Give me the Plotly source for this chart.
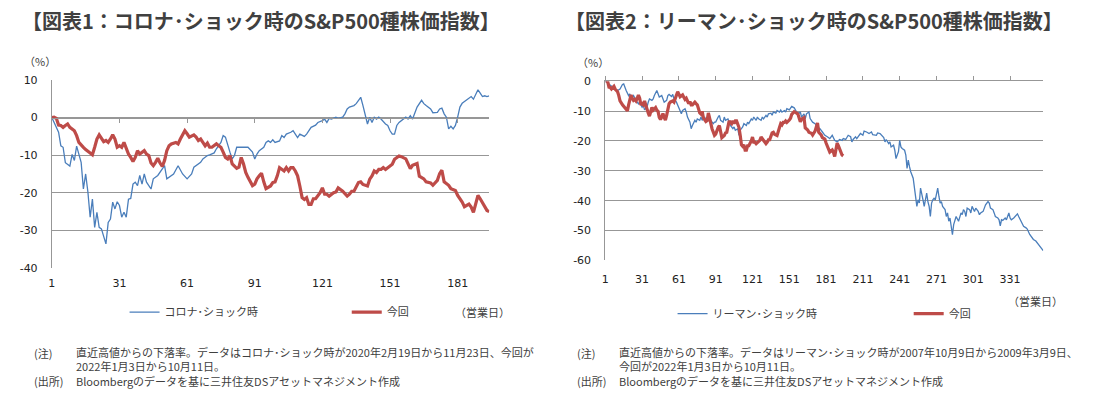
import plotly.graph_objects as go

W, H = 1099, 397

# ---------------- data (business day index, % from recent high) ----------------
corona_days = [
    1, 4, 5, 6, 7, 9, 10, 11, 12, 13,
    14, 15, 16, 17, 18, 19, 20, 21, 22, 23,
    24, 25, 26, 27, 28, 29, 30, 31, 32, 33,
    34, 35, 36, 37, 38, 39, 40, 41, 42, 43,
    45, 46, 48, 49, 51, 52, 54, 55, 57, 59,
    61, 63, 64, 65, 67, 68, 70, 71, 73, 74,
    76, 77, 78, 80, 81, 82, 83, 85, 88, 90,
    91, 92, 93, 95, 96, 97, 98, 99, 100, 102,
    103, 104, 105, 107, 108, 109, 110, 111, 113, 114,
    115, 116, 118, 119, 121, 122, 123, 124, 125, 126,
    127, 128, 130, 131, 132, 133, 135, 136, 137, 138,
    139, 140, 141, 142, 143, 144, 145, 146, 147, 149,
    150, 151, 152, 153, 154, 155, 156, 158, 159, 160,
    161, 162, 163, 165, 166, 167, 169, 170, 172, 173,
    174, 175, 176, 177, 178, 179, 180, 181, 182, 183,
    184, 186, 187, 188, 189, 190, 191, 192, 193, 194,
    195,
]
corona_values = [
    0.0, -3.9, -7.5, -7.9, -12.0, -12.9, -9.8, -11.4, -7.6, -10.1,
    -11.9, -19.0, -15.0, -19.8, -26.5, -21.7, -29.2, -25.2, -29.2, -29.6,
    -31.4, -33.6, -27.9, -27.0, -22.5, -24.3, -22.4, -23.4, -26.5, -25.2,
    -26.5, -21.7, -21.5, -17.7, -17.2, -18.1, -15.4, -17.7, -15.0, -17.2,
    -19.0, -16.3, -15.4, -14.6, -12.8, -16.3, -15.4, -15.0, -12.8, -15.0,
    -16.3, -15.0, -13.2, -12.8, -11.9, -11.0, -10.1, -9.9, -9.4, -8.3,
    -6.6, -4.8, -5.2, -9.2, -11.0, -10.1, -7.9, -7.9, -7.9, -9.2,
    -11.0, -9.7, -8.8, -7.9, -6.6, -6.2, -6.6, -5.9, -6.6, -6.2,
    -4.8, -5.3, -4.4, -3.9, -3.5, -4.4, -5.3, -4.4, -5.0, -4.4,
    -3.5, -2.6, -2.0, -1.3, -0.8, -0.4, -1.3, -0.2, -0.4, -0.2,
    0.1, -0.2, 0.1, 1.0, 2.3, 2.8, 3.2, 3.7, 4.6, 5.4,
    3.2, 1.0, -1.7, 0.1, -1.3, 0.1, -0.4, 0.1, -0.4, -1.7,
    -2.1, -3.5, -4.4, -4.4, -2.1, -1.3, -0.8, 0.1, -0.4, 0.5,
    -0.4, 1.0, 2.8, 4.6, 3.7, 3.2, 2.3, 1.3, 1.4, 2.3,
    2.5, 1.0, 0.1, -3.0, -2.3, -3.0, -2.1, 0.1, 2.8, 3.8,
    4.3, 5.2, 5.6, 4.9, 6.1, 7.4, 6.5, 5.6, 5.8, 5.6,
    5.8,
]

current_days = [
    1, 2, 3, 4, 5, 6, 7, 8, 9, 11,
    12, 13, 15, 16, 18, 19, 20, 21, 22, 23,
    24, 25, 26, 27, 28, 29, 30, 31, 32, 33,
    34, 35, 36, 37, 38, 39, 40, 41, 42, 43,
    44, 45, 46, 47, 48, 49, 50, 51, 52, 53,
    54, 56, 57, 58, 59, 60, 61, 62, 64, 65,
    66, 67, 68, 69, 70, 71, 72, 73, 74, 75,
    76, 77, 78, 79, 80, 81, 82, 83, 84, 85,
    86, 87, 88, 89, 90, 91, 92, 93, 94, 95,
    96, 98, 99, 100, 101, 102, 104, 105, 106, 107,
    108, 109, 110, 111, 112, 113, 114, 115, 116, 117,
    118, 120, 121, 122, 123, 124, 125, 126, 127, 128,
    130, 131, 132, 133, 134, 135, 136, 137, 138, 139,
    141, 142, 143, 144, 145, 146, 147, 148, 149, 151,
    152, 153, 154, 155, 156, 157, 158, 160, 161, 163,
    164, 166, 167, 169, 170, 172, 173, 174, 175, 177,
    178, 180, 181, 183, 184, 186, 187, 188, 189, 190,
    191, 193, 194, 195,
]
current_values = [
    0.0, 0.1, -0.2, -2.0, -2.1, -2.6, -2.1, -1.7, -2.6, -3.5,
    -4.8, -6.6, -7.9, -8.5, -9.4, -9.9, -7.9, -5.7, -4.6, -5.7,
    -6.4, -6.1, -6.6, -5.7, -4.6, -5.7, -7.9, -7.5, -7.9, -6.6,
    -8.3, -9.7, -10.6, -11.7, -10.6, -8.8, -9.7, -9.2, -8.8, -9.7,
    -10.1, -12.1, -12.8, -11.9, -10.8, -12.1, -13.0, -11.4, -8.8, -7.5,
    -7.0, -6.6, -7.0, -5.7, -4.6, -3.5, -4.3, -5.2, -4.6, -5.2,
    -6.1, -5.7, -6.6, -7.5, -6.8, -7.9, -7.9, -7.5, -7.0, -7.5,
    -7.9, -9.2, -10.6, -11.0, -10.1, -12.3, -12.8, -13.5, -13.2, -10.6,
    -12.3, -14.6, -15.9, -17.0, -18.1, -17.7, -16.3, -15.5, -14.8, -17.1,
    -18.9, -18.2, -17.3, -17.1, -15.5, -13.3, -14.2, -13.3, -14.2, -13.3,
    -13.3, -14.2, -15.5, -18.2, -21.3, -21.8, -21.3, -23.1, -23.1, -21.6,
    -21.6, -20.0, -18.7, -20.4, -20.4, -20.9, -20.4, -20.0, -19.8, -18.7,
    -19.6, -20.4, -20.9, -20.4, -19.6, -19.6, -18.2, -17.3, -17.1, -17.8,
    -18.2, -16.4, -15.5, -14.2, -14.6, -13.8, -13.8, -13.3, -13.8, -13.0,
    -12.4, -11.1, -10.6, -10.2, -10.4, -10.6, -11.0, -13.6, -12.7, -12.2,
    -15.6, -16.3, -17.1, -17.4, -18.0, -16.7, -14.9, -14.0, -17.1, -18.0,
    -18.9, -19.4, -20.7, -22.5, -23.7, -23.0, -23.8, -25.2, -23.0, -20.7,
    -21.6, -23.8, -24.7, -25.0,
]

lehman_days = [
    1, 3, 5, 7, 9, 11, 13, 15, 16, 18,
    20, 21, 22, 24, 25, 26, 28, 29, 31, 32,
    33, 35, 36, 37, 39, 40, 41, 43, 44, 45,
    47, 48, 49, 51, 52, 53, 55, 56, 57, 59,
    60, 62, 63, 64, 66, 67, 68, 70, 71, 72,
    74, 75, 76, 78, 79, 80, 82, 83, 84, 86,
    87, 89, 90, 91, 93, 94, 95, 97, 98, 99,
    101, 102, 103, 105, 106, 107, 109, 110, 111, 113,
    114, 116, 117, 118, 120, 121, 122, 124, 125, 126,
    128, 129, 130, 132, 133, 134, 136, 137, 138, 140,
    141, 143, 144, 145, 147, 148, 149, 151, 152, 153,
    155, 156, 157, 159, 160, 161, 163, 164, 165, 167,
    168, 170, 172, 174, 176, 178, 180, 182, 184, 186,
    188, 190, 192, 194, 195, 197, 199, 201, 202, 203,
    205, 206, 209, 211, 212, 214, 216, 218, 219, 222,
    223, 225, 228, 229, 230, 232, 233, 234, 236, 237,
    238, 240, 241, 242, 243, 245, 246, 247, 248, 249,
    250, 252, 253, 254, 255, 256, 257, 258, 259, 260,
    261, 262, 263, 264, 265, 266, 267, 268, 269, 270,
    271, 272, 273, 274, 275, 276, 278, 279, 280, 281,
    282, 283, 284, 285, 286, 287, 289, 290, 291, 292,
    293, 294, 295, 296, 298, 299, 300, 302, 303, 305,
    306, 307, 309, 310, 311, 313, 314, 315, 317, 318,
    319, 321, 322, 323, 324, 325, 327, 328, 330, 331,
    332, 334, 335, 337, 338, 340, 341, 342, 344, 345,
    347, 349, 350, 352, 353, 355, 356, 357, 358,
]
lehman_values = [
    0.0, -0.7, -1.4, -2.2, -2.6, -3.1, -2.6, -1.1, -0.9, -3.1,
    -4.8, -4.2, -5.9, -4.8, -5.9, -6.4, -7.6, -7.0, -8.7, -8.1,
    -9.6, -8.7, -7.0, -5.9, -6.4, -5.9, -4.8, -3.1, -4.2, -5.3,
    -4.8, -5.9, -7.0, -6.4, -4.8, -4.4, -5.1, -4.4, -5.9, -7.0,
    -8.1, -9.8, -10.9, -9.8, -9.2, -10.3, -12.0, -13.7, -15.9, -14.8,
    -13.1, -13.7, -12.6, -13.1, -12.0, -13.1, -12.0, -13.1, -12.6, -12.0,
    -13.1, -14.2, -13.7, -13.7, -12.0, -11.4, -13.1, -13.7, -12.0, -13.1,
    -12.6, -13.7, -14.8, -15.9, -15.3, -16.4, -15.9, -18.1, -16.4, -15.3,
    -14.2, -14.8, -13.7, -14.2, -12.6, -13.1, -12.0, -13.1, -12.0, -12.6,
    -13.1, -12.0, -12.6, -11.4, -12.0, -10.9, -10.7, -11.4, -10.3, -10.7,
    -9.8, -10.3, -9.6, -10.3, -9.8, -10.3, -9.2, -9.6, -8.7, -8.4,
    -8.9, -9.8, -10.3, -10.7, -10.3, -12.0, -10.9, -12.6, -10.9, -10.3,
    -12.5, -13.7, -14.2, -15.3, -15.9, -17.0, -18.1, -18.6, -19.2, -18.1,
    -19.8, -20.3, -19.5, -19.8, -19.2, -19.5, -18.1, -18.6, -20.3, -19.5,
    -18.6, -19.2, -17.5, -18.1, -16.7, -17.0, -17.5, -17.0, -17.9, -18.1,
    -17.3, -17.5, -18.9, -20.3, -19.5, -20.9, -20.3, -22.0, -21.4, -23.1,
    -25.9, -23.6, -19.8, -22.0, -22.5, -23.1, -24.7, -29.2, -26.4, -28.6,
    -30.3, -32.5, -36.4, -39.7, -41.9, -39.7, -40.8, -35.8, -38.6, -39.7,
    -41.9, -39.7, -37.5, -40.3, -41.9, -45.3, -40.8, -39.7, -39.2, -39.7,
    -37.5, -35.8, -38.6, -40.8, -40.3, -41.9, -43.0, -45.3, -44.1, -46.9,
    -45.8, -48.6, -51.4, -48.0, -46.4, -45.3, -46.9, -45.8, -44.1, -44.7,
    -43.0, -43.6, -45.3, -42.5, -43.0, -44.1, -41.9, -43.6, -42.5, -43.6,
    -44.7, -44.1, -43.6, -42.5, -41.4, -40.3, -40.8, -42.5, -43.0, -44.1,
    -45.3, -45.8, -46.4, -48.4, -46.4, -46.6, -45.8, -46.4, -44.1, -45.8,
    -46.4, -45.8, -45.3, -44.4, -45.3, -46.9, -47.5, -48.6, -49.1, -49.5,
    -51.3, -52.2, -53.0, -53.5, -54.1, -55.2, -55.8, -56.2, -56.7,
]

assert len(corona_days) == len(corona_values)
assert len(current_days) == len(current_values)
assert len(lehman_days) == len(lehman_values)

x1_ticks = [1, 31, 61, 91, 121, 151, 181]
x2_ticks = [1, 31, 61, 91, 121, 151, 181, 211, 241, 271, 301, 331]
y1_ticks = [10, 0, -10, -20, -30, -40]
y2_ticks = [0, -10, -20, -30, -40, -50, -60]
x1_range = [1, 195]
x2_range = [1, 358]
y1_range = [-40, 10]
y2_range = [-60, 0]

# ---------------- style ----------------
BLUE = "#4A7EBB"
RED = "#BE4B48"
GRID = "#979797"
TXT = "#404040"
JP = "Noto Sans CJK JP"
NUM = "DejaVu Sans"


def px(x):
    return x / W


def py(y):
    return 1 - y / H


# plot areas in pixels (left, right, top, bottom)
c1 = (48.0, 487.0, 76.5, 270.8)
c2 = (603.5, 1043.0, 77.8, 263.0)

y1_dom = [py(c1[3]), py(c1[2])]
y2_dom = [py(c2[3]), py(c2[2])]
zero1 = y1_dom[0] + (0 - y1_range[0]) / (y1_range[1] - y1_range[0]) * (y1_dom[1] - y1_dom[0])

fig = go.Figure()
fig.add_trace(go.Scatter(x=corona_days, y=corona_values, mode="lines",
                         line=dict(color=BLUE, width=1.3), name="コロナ･ショック時",
                         xaxis="x", yaxis="y", legend="legend", hoverinfo="skip"))
fig.add_trace(go.Scatter(x=current_days, y=current_values, mode="lines",
                         line=dict(color=RED, width=3.2), name="今回",
                         xaxis="x3", yaxis="y", legend="legend2", hoverinfo="skip"))
fig.add_trace(go.Scatter(x=lehman_days, y=lehman_values, mode="lines",
                         line=dict(color=BLUE, width=1.3), name="リーマン･ショック時",
                         xaxis="x2", yaxis="y2", legend="legend3", hoverinfo="skip"))
fig.add_trace(go.Scatter(x=current_days, y=current_values, mode="lines",
                         line=dict(color=RED, width=3.2), name="今回",
                         xaxis="x4", yaxis="y2", legend="legend4", hoverinfo="skip"))

tickfont = dict(family=NUM, size=11, color="#222222")
hidden_tick = "rgba(0,0,0,0)"


def label_x(ticklen):
    return dict(tickmode="array", ticks="outside", ticklen=ticklen, tickcolor=hidden_tick,
                showline=False, showgrid=False, zeroline=False, tickfont=tickfont,
                fixedrange=True)


common_line_x = dict(tickmode="array", ticks="outside", ticklen=4, tickwidth=1, tickcolor=GRID,
                     showline=True, linecolor=GRID, linewidth=1, showticklabels=False,
                     showgrid=False, zeroline=False, fixedrange=True)
common_y = dict(tickmode="array", ticks="outside", ticklen=11, tickcolor=hidden_tick,
                showline=True, linecolor=GRID, linewidth=1, showgrid=True, gridcolor=GRID,
                gridwidth=1, zeroline=False, tickfont=tickfont, fixedrange=True)

legfont = dict(family=JP, size=11, color=TXT)


def leg(x, y):
    return dict(x=px(x), y=py(y), xanchor="left", yanchor="middle", orientation="h",
                font=legfont, bgcolor="rgba(0,0,0,0)", borderwidth=0)


annotations = []


def text(x, y, s, size=11, anchor="left", color=TXT, family=JP):
    annotations.append(dict(x=px(x), y=py(y), xref="paper", yref="paper", text=s,
                            showarrow=False, xanchor=anchor, yanchor="middle", align="left",
                            font=dict(family=family, size=size, color=color)))


# titles
text(16, 14.5, "<b>【図表1：コロナ･ショック時のS&P500種株価指数】</b>", size=20)
text(561, 14.5, "<b>【図表2：リーマン･ショック時のS&P500種株価指数】</b>", size=20)
# unit labels
text(36.5, 56.5, "（%）", anchor="center")
text(591.5, 57.5, "（%）", anchor="center")
text(451, 316.5, "（営業日）")
text(1006, 305.0, "（営業日）")
# notes chart 1
text(28, 358.3, "(注)")
text(70, 364.8, "直近高値からの下落率。データはコロナ･ショック時が2020年2月19日から11月23日、今回が"
     "<br>2022年1月3日から10月11日。")
text(28, 387.3, "(出所)")
text(70, 387.3, "Bloombergのデータを基に三井住友DSアセットマネジメント作成")
# notes chart 2
text(573, 358.3, "(注)")
text(615, 364.8, "直近高値からの下落率。データはリーマン･ショック時が2007年10月9日から2009年3月9日、"
     "<br>今回が2022年1月3日から10月11日。")
text(573, 387.3, "(出所)")
text(615, 387.3, "Bloombergのデータを基に三井住友DSアセットマネジメント作成")

fig.update_layout(
    width=W, height=H, autosize=False,
    margin=dict(l=0, r=0, t=0, b=0, pad=0),
    paper_bgcolor="white", plot_bgcolor="rgba(0,0,0,0)",
    showlegend=True,
    xaxis=dict(domain=[px(c1[0]), px(c1[1])], range=x1_range, anchor="y",
               tickvals=x1_ticks, ticktext=[str(v) for v in x1_ticks], **label_x(5)),
    xaxis3=dict(overlaying="x", anchor="free", position=zero1, side="bottom",
                range=x1_range, tickvals=x1_ticks, **common_line_x),
    yaxis=dict(domain=y1_dom, range=y1_range, anchor="x",
               tickvals=y1_ticks, ticktext=[str(v) for v in y1_ticks], **common_y),
    xaxis2=dict(domain=[px(c2[0]), px(c2[1])], range=x2_range, anchor="y2",
                tickvals=x2_ticks, ticktext=[str(v) for v in x2_ticks], **label_x(8)),
    xaxis4=dict(overlaying="x2", anchor="y2", side="top",
                range=x2_range, tickvals=x2_ticks, **common_line_x),
    yaxis2=dict(domain=y2_dom, range=y2_range, anchor="x2",
                tickvals=y2_ticks, ticktext=[str(v) for v in y2_ticks], **common_y),
    legend=leg(121, 316.5),
    legend2=leg(344, 316.5),
    legend3=leg(671, 318.0),
    legend4=leg(908, 318.0),
    annotations=annotations,
)

fit_script = """
document.documentElement.style.margin = '0';
document.documentElement.style.overflow = 'hidden';
document.body.style.margin = '0';
document.body.style.overflow = 'hidden';
"""

fig.write_html(
    "out.html",
    include_plotlyjs=True,
    config={"displayModeBar": False, "staticPlot": True},
    post_script=fit_script,
)
